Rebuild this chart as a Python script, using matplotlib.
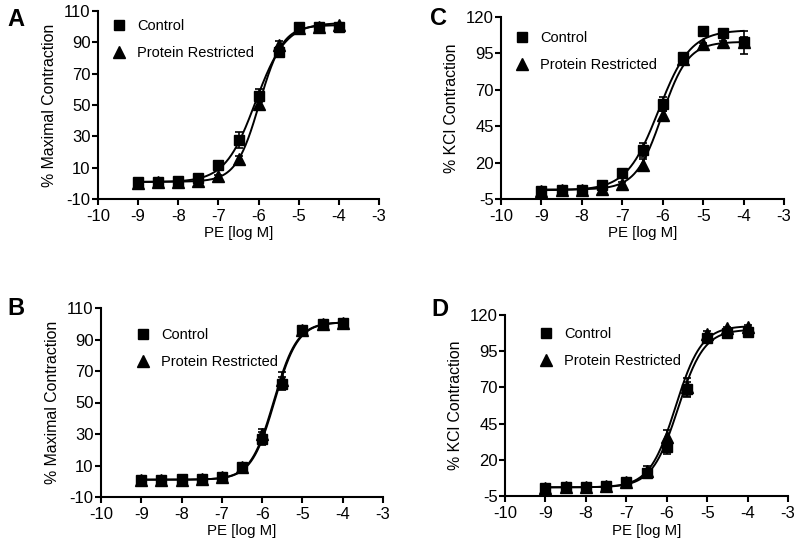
import numpy as np
import matplotlib
matplotlib.use("Agg")
import matplotlib.pyplot as plt

plt.rcParams["font.family"] = ["Liberation Sans", "DejaVu Sans"]
plt.rcParams["axes.unicode_minus"] = False

# log concentrations of PE
log_pe = [-9, -8.5, -8, -7.5, -7, -6.5, -6, -5.5, -5, -4.5, -4]

# panel A: % maximal contraction
a_ctrl = [0.6, 0.8, 1.2, 3.5, 12, 27.5, 56, 84, 99.5, 100, 100]
a_ctrl_err = [0.5, 0.5, 0.5, 1, 2, 5, 4, 3, 1, 0.5, 0.5]
a_pr = [0.5, 0.8, 1.0, 1.5, 4.5, 15.5, 50.5, 88, 99, 100, 101]
a_pr_err = [0.5, 0.5, 0.5, 0.5, 1, 2, 2, 3, 1, 0.5, 0.5]

# panel B: % maximal contraction
b_ctrl = [0.6, 0.8, 1.2, 1.5, 3, 9, 27, 62, 96, 100, 100.5]
b_ctrl_err = [0.5, 0.5, 0.5, 0.5, 1, 1, 4, 4, 1, 0.5, 0.5]
b_pr = [0.5, 0.8, 1.0, 1.5, 3, 9, 30, 64.5, 96, 100, 100.5]
b_pr_err = [0.5, 0.5, 0.5, 0.5, 1, 1, 3, 5, 1, 0.5, 0.5]

# panel C: % KCl contraction
c_ctrl = [0.7, 1.2, 1.5, 4.8, 12.6, 28.7, 60.3, 92.8, 110.4, 109.2, 102.6]
c_ctrl_err = [0.5, 0.5, 0.5, 1, 2, 5, 5, 2, 1, 1, 8]
c_pr = [0.7, 1.0, 1.5, 2.0, 5.5, 18.6, 52.5, 91, 101.3, 102.6, 102.6]
c_pr_err = [0.5, 0.5, 0.5, 0.5, 1, 4, 3, 2, 1, 1, 4]

# panel D: % KCl contraction
d_ctrl = [0.5, 1.0, 1.2, 2.0, 4.5, 10.9, 28.9, 68.6, 103.9, 107.8, 108]
d_ctrl_err = [0.5, 0.5, 0.5, 0.5, 1, 3, 5, 5, 2, 1, 1]
d_pr = [0.5, 1.0, 1.2, 2.0, 5.0, 12.0, 35.8, 70.4, 106.9, 110.8, 112]
d_pr_err = [0.5, 0.5, 0.5, 0.5, 1, 4, 5, 6, 2, 1, 1]

# sigmoid fit parameters (bottom, top, logEC50, hill)
fit_a_ctrl = (0.8, 102.5, -6.08, 1.15)
fit_a_pr = (1.0, 101.0, -5.98, 1.5)
fit_b_ctrl = (1.0, 101.0, -5.69, 1.5)
fit_b_pr = (1.0, 101.0, -5.71, 1.5)
fit_c_ctrl = (1.0, 111.0, -6.1, 1.1)
fit_c_pr = (1.5, 103.0, -6.02, 1.35)
fit_d_ctrl = (1.0, 110.0, -5.72, 1.35)
fit_d_pr = (1.0, 112.5, -5.78, 1.35)

W, H = 800, 547


def logistic(x, bottom, top, ec50, hill):
    return bottom + (top - bottom) / (1 + 10 ** ((ec50 - x) * hill))


def draw_panel(fig, rect, letter, letter_xy, ylabel, yticks,
               ctrl, ctrl_err, pr, pr_err, fit_ctrl, fit_pr, leg_anchor):
    left, top, right, bottom = rect
    ax = fig.add_axes([left / W, 1 - bottom / H, (right - left) / W, (bottom - top) / H])

    xs = np.linspace(-9, -4, 300)
    ax.plot(xs, logistic(xs, *fit_ctrl), color="black", lw=1.4, zorder=2)
    ax.plot(xs, logistic(xs, *fit_pr), color="black", lw=1.4, zorder=2)

    ax.errorbar(log_pe, ctrl, yerr=ctrl_err, fmt="s", color="black", ms=7,
                capsize=3, elinewidth=1.2, capthick=1.2, label="Control", zorder=3)
    ax.errorbar(log_pe, pr, yerr=pr_err, fmt="^", color="black", ms=8,
                capsize=3, elinewidth=1.2, capthick=1.2, label="Protein Restricted", zorder=3)

    ax.set_xlim(-10, -3)
    ax.set_ylim(yticks[0], yticks[-1])
    ax.set_xticks(range(-10, -2))
    ax.set_yticks(yticks)
    ax.spines["top"].set_visible(False)
    ax.spines["right"].set_visible(False)
    for s in ("left", "bottom"):
        ax.spines[s].set_linewidth(1.5)
    ax.tick_params(direction="out", width=1.5, labelsize=12)
    ax.tick_params(axis="y", length=4.5, pad=0.8)
    ax.tick_params(axis="x", length=4, pad=3)
    ax.set_xlabel("PE [log M]", fontsize=10.8, labelpad=2)
    ax.set_ylabel(ylabel, fontsize=11.4, labelpad=5)

    handles, labels = ax.get_legend_handles_labels()
    handles = [h[0] for h in handles]
    ax.legend(handles, labels, loc="upper left", bbox_to_anchor=leg_anchor,
              frameon=False, fontsize=10.5, handletextpad=0.75, labelspacing=0.85,
              handlelength=1.0, borderaxespad=0, borderpad=0)

    fig.text(letter_xy[0] / W, 1 - letter_xy[1] / H, letter, fontsize=17,
             fontweight="bold", ha="left", va="baseline")
    return ax


fig = plt.figure(figsize=(8, 5.47), dpi=100)

ticks_max = [-10, 10, 30, 50, 70, 90, 110]
ticks_kcl = [-5, 20, 45, 70, 95, 120]

draw_panel(fig, (98, 11, 379, 199), "A", (7, 26), "% Maximal Contraction", ticks_max,
           a_ctrl, a_ctrl_err, a_pr, a_pr_err, fit_a_ctrl, fit_a_pr, (0.048, 0.955))
draw_panel(fig, (101, 308, 383, 497), "B", (7, 315), "% Maximal Contraction", ticks_max,
           b_ctrl, b_ctrl_err, b_pr, b_pr_err, fit_b_ctrl, fit_b_pr, (0.122, 0.892))
draw_panel(fig, (501, 17, 784, 199), "C", (430, 25), "% KCl Contraction", ticks_kcl,
           c_ctrl, c_ctrl_err, c_pr, c_pr_err, fit_c_ctrl, fit_c_pr, (0.047, 0.921))
draw_panel(fig, (505, 315, 788, 496), "D", (431, 316), "% KCl Contraction", ticks_kcl,
           d_ctrl, d_ctrl_err, d_pr, d_pr_err, fit_d_ctrl, fit_d_pr, (0.118, 0.931))

fig.savefig("out.png", dpi=100)
